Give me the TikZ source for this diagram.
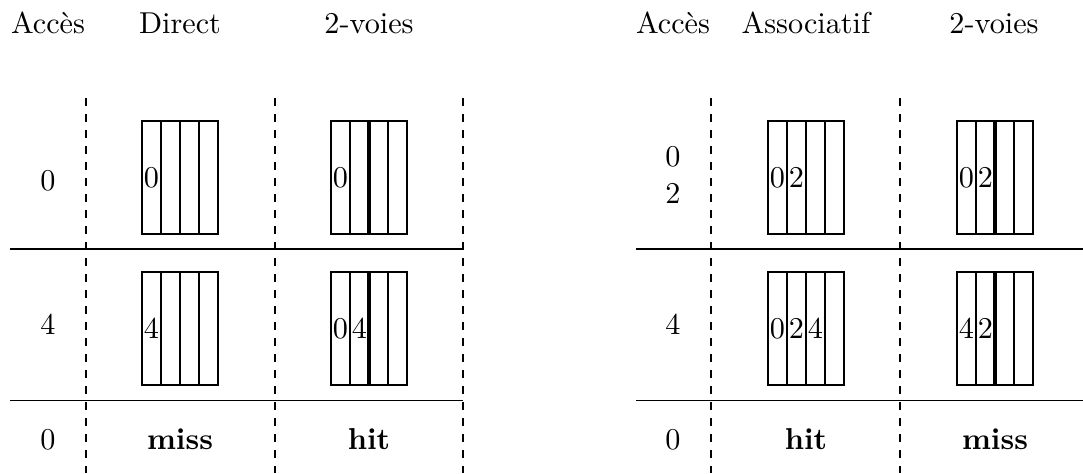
\documentclass[tikz,border=0pt]{standalone}
\newcommand\cachebox[7]{%
  \node[cell] (#1-1) at (#2+9.5,#3) {#4};
  \node[cell] (#1-2) at (#2+28.5,#3) {#5};
  \node[cell] (#1-3) at (#2+47.5,#3) {#6};
  \node[cell] (#1-4) at (#2+66.5,#3) {#7};}
\begin{document}
\begin{tikzpicture}[x=0.3311pt,y=-0.3311pt,
  cell/.style={draw, line width=0.4pt, minimum width=6.29pt, minimum height=37.41pt, inner sep=0pt, outer sep=0pt},
  waysepline/.style={draw=black, line width=1.3pt},
  sepdash/.style={line width=0.4pt, dash pattern=on 2.6pt off 2.7pt},
  rule/.style={line width=0.4pt},
  lab/.style={anchor=base, inner sep=0pt}]
\useasboundingbox (0,0) rectangle (1083,473);
% ---------- left table ----------
\node[lab] (hA1) at (48,33) {Accès};
\node[lab] (hD) at (180,33) {Direct};
\node[lab] (hV1) at (369,33) {2-voies};
\draw[rule] (10,249) -- (463,249);
\draw[rule] (10,400.5) -- (463,400.5);
\draw[sepdash] (86,98) -- (86,473);
\draw[sepdash] (275,98) -- (275,473);
\draw[sepdash] (463,98) -- (463,473);
\node[lab] (l1) at (48,190) {0};
\node[lab] (l2) at (48,334) {4};
\node[lab] (l3) at (48,449) {0};
\cachebox{d1}{142}{177.5}{0}{}{}{}
\cachebox{v1}{331}{177.5}{0}{}{}{}
\path[waysepline] (v1-3.north west) -- (v1-3.south west);
\cachebox{d2}{142}{328.5}{4}{}{}{}
\cachebox{v2}{331}{328.5}{0}{4}{}{}
\path[waysepline] (v2-3.north west) -- (v2-3.south west);
\node[lab] (r1) at (180,449) {\textbf{miss}};
\node[lab] (r2) at (369,449) {\textbf{hit}};
% ---------- right table ----------
\node[lab] (hA2) at (673,33) {Accès};
\node[lab] (hS) at (806,33) {Associatif};
\node[lab] (hV2) at (994,33) {2-voies};
\draw[rule] (636,249) -- (1083,249);
\draw[rule] (636,400.5) -- (1083,400.5);
\draw[sepdash] (711,98) -- (711,473);
\draw[sepdash] (900,98) -- (900,473);
\node[lab] (m1a) at (673,166) {0};
\node[lab] (m1b) at (673,203) {2};
\node[lab] (m2) at (673,334) {4};
\node[lab] (m3) at (673,449) {0};
\cachebox{a1}{768}{177.5}{0}{2}{}{}
\cachebox{w1}{957}{177.5}{0}{2}{}{}
\path[waysepline] (w1-3.north west) -- (w1-3.south west);
\cachebox{a2}{768}{328.5}{0}{2}{4}{}
\cachebox{w2}{957}{328.5}{4}{2}{}{}
\path[waysepline] (w2-3.north west) -- (w2-3.south west);
\node[lab] (s1) at (806,449) {\textbf{hit}};
\node[lab] (s2) at (995,449) {\textbf{miss}};
\end{tikzpicture}
\end{document}
